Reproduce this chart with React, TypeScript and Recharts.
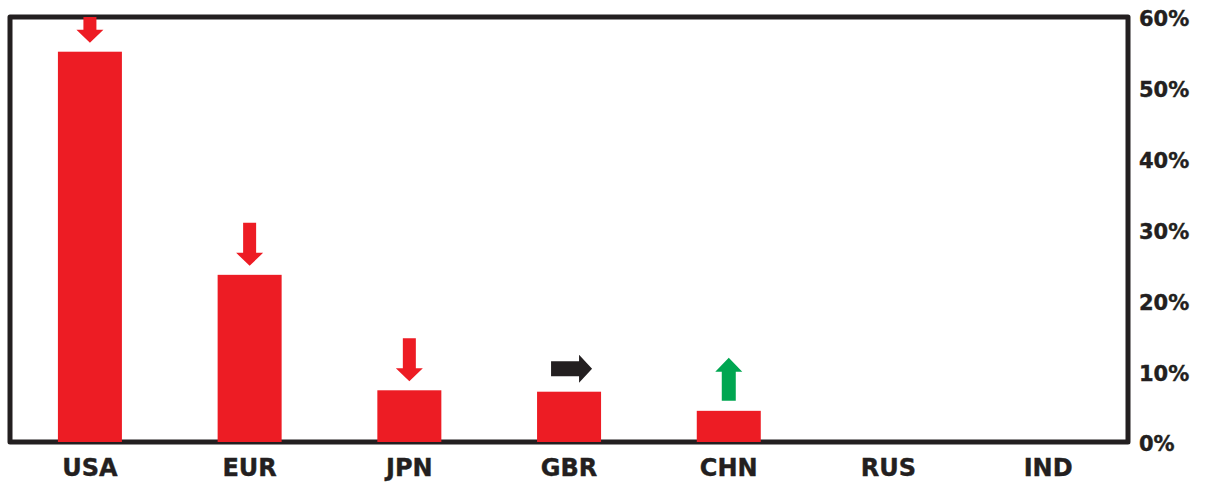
import { Bar, BarChart, ReferenceArea, XAxis, YAxis } from "recharts";

const categories = ["USA", "EUR", "JPN", "GBR", "CHN", "RUS", "IND"];
const shares = [55.1, 23.6, 7.3, 7.1, 4.4, 0, 0];
const trends = ["down", "down", "down", "flat", "up", null, null];
const yTicks = [0, 10, 20, 30, 40, 50, 60];

const RED = "#ED1C24";
const GREEN = "#00A651";
const INK = "#231F20";
const Y_MAX = 60;

const chartData = categories.map((name, i) => ({
  name,
  share: shares[i],
  trend: trends[i],
}));

function BarWithArrow(props: any) {
  const { x, y, width, height, payload } = props;
  const cx = x + width / 2;
  const bottom = y + height;
  const pxPerUnit = payload.share > 0 ? height / payload.share : 0;
  const plotTop = bottom - Y_MAX * pxPerUnit;
  let arrow = null;

  if (payload.trend === "down") {
    const tip = y - 9;
    const top = Math.max(tip - 43, plotTop);
    const headTop = tip - 13;
    arrow = (
      <polygon
        fill={RED}
        points={`${cx - 6.5},${top} ${cx + 6.5},${top} ${cx + 6.5},${headTop} ${cx + 13.5},${headTop} ${cx},${tip} ${cx - 13.5},${headTop} ${cx - 6.5},${headTop}`}
      />
    );
  } else if (payload.trend === "up") {
    const base = y - 10;
    const tip = base - 43;
    const headBottom = tip + 14;
    arrow = (
      <polygon
        fill={GREEN}
        points={`${cx - 7},${base} ${cx + 7},${base} ${cx + 7},${headBottom} ${cx + 13.5},${headBottom} ${cx},${tip} ${cx - 13.5},${headBottom} ${cx - 7},${headBottom}`}
      />
    );
  } else if (payload.trend === "flat") {
    const my = y - 23;
    const left = cx - 18;
    const tip = cx + 23;
    const headLeft = tip - 13;
    arrow = (
      <polygon
        fill={INK}
        points={`${left},${my - 7.5} ${headLeft},${my - 7.5} ${headLeft},${my - 14} ${tip},${my} ${headLeft},${my + 14} ${headLeft},${my + 7.5} ${left},${my + 7.5}`}
      />
    );
  }

  return (
    <g>
      {height > 0 ? (
        <rect x={x} y={y} width={width} height={height} fill={RED} />
      ) : null}
      {arrow}
    </g>
  );
}

export default function App() {
  return (
    <div style={{ position: "fixed", left: 0, top: 0, background: "#fff" }}>
      <BarChart
        width={1205}
        height={483}
        data={chartData}
        margin={{ top: 17, right: 0, left: 10, bottom: 0 }}
        barCategoryGap="30%"
      >
        <XAxis
          dataKey="name"
          axisLine={false}
          tickLine={false}
          tickSize={0}
          tickMargin={17}
          height={41}
          interval={0}
          tick={{
            fill: INK,
            fontSize: 24,
            fontWeight: 700,
            fontFamily: "DejaVu Sans",
            stroke: INK,
            strokeWidth: 0.4,
          }}
        />
        <YAxis
          orientation="right"
          domain={[0, Y_MAX]}
          ticks={yTicks}
          tickFormatter={(v) => `${v}%`}
          axisLine={false}
          tickLine={false}
          tickSize={0}
          tickMargin={11}
          width={77}
          interval={0}
          tick={{
            fill: INK,
            fontSize: 21,
            fontWeight: 700,
            fontFamily: "DejaVu Sans",
            textAnchor: "start",
            stroke: INK,
            strokeWidth: 0.4,
            dy: 2,
          }}
        />
        <Bar
          dataKey="share"
          fill={RED}
          shape={BarWithArrow}
          isAnimationActive={false}
        />
        <ReferenceArea
          y1={0}
          y2={Y_MAX}
          fill="none"
          stroke={INK}
          strokeWidth={5}
          strokeLinejoin="round"
          ifOverflow="visible"
        />
      </BarChart>
    </div>
  );
}
